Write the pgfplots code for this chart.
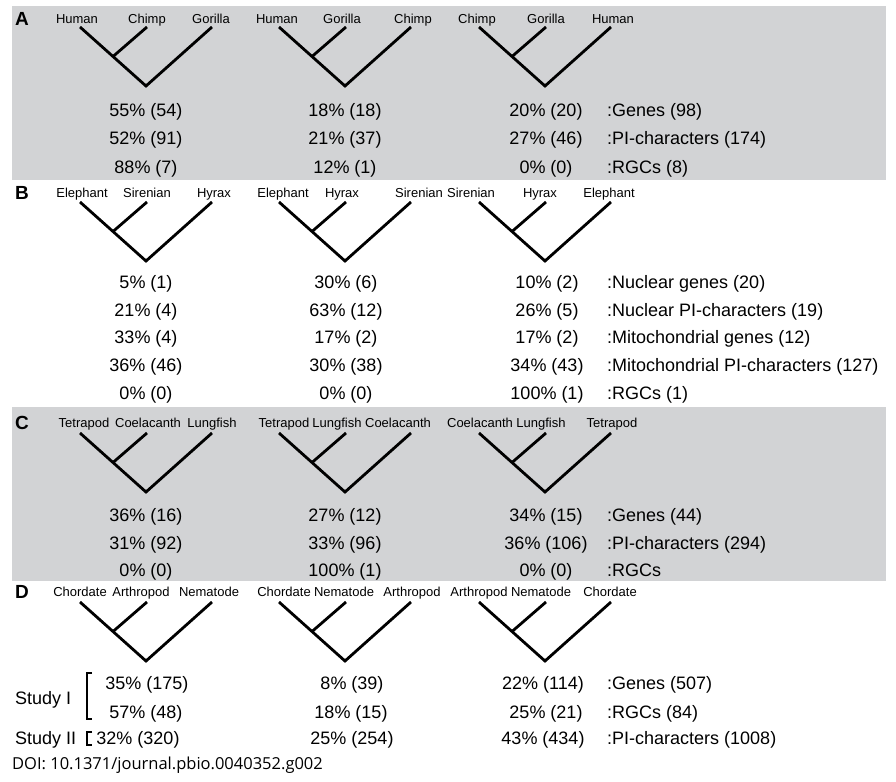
\documentclass[border=0pt]{standalone}
\usepackage{pgfplots}
\pgfplotsset{compat=1.18}
\usepackage{fontspec}
\setmainfont{Liberation Sans}
\newfontfamily\doifont{Open Sans}
\definecolor{panelgray}{RGB}{210,211,213}

\pgfplotsset{
  tree/.style={black, line width=2.8pt, no marks, line join=miter},
  brk/.style={black, line width=1.4pt, no marks},
}
\tikzset{
  pct/.style={font=\fontsize{18}{20}\selectfont, anchor=base, inner sep=0pt},
  lab/.style={font=\fontsize{18}{20}\selectfont, anchor=base west, inner sep=0pt},
  sp/.style={font=\fontsize{13}{15}\selectfont, anchor=base, inner sep=0pt},
  pan/.style={font=\fontsize{19}{21}\selectfont\bfseries, anchor=base west, inner sep=0pt},
}

\begin{document}
\begin{tikzpicture}
\begin{axis}[
  scale only axis, width=896pt, height=781pt,
  xmin=0, xmax=896, ymin=0, ymax=781, y dir=reverse,
  hide axis, clip=false, unbounded coords=jump,
]
% background and grey panels
\addplot[fill=white, draw=none] coordinates {(0,0)(896,0)(896,781)(0,781)};
\addplot[fill=panelgray, draw=none] coordinates {(12,6)(886,6)(886,180)(12,180)};
\addplot[fill=panelgray, draw=none] coordinates {(12,407)(886,407)(886,581)(12,581)};

% trees: V from outer tips to root, then inner branch
% panel A (tips y=27)
\addplot[tree] coordinates {(80,27)(146,86)(212,27) (147,nan) (147,27)(113,56.5)};
\addplot[tree] coordinates {(279,27)(345,86)(411,27) (346,nan) (346,27)(312,56.5)};
\addplot[tree] coordinates {(479,27)(545,86)(611,27) (546,nan) (546,27)(512,56.5)};
% panel B (tips y=202)
\addplot[tree] coordinates {(80,202)(146,261)(212,202) (147,nan) (147,202)(113,231.5)};
\addplot[tree] coordinates {(279,202)(345,261)(411,202) (346,nan) (346,202)(312,231.5)};
\addplot[tree] coordinates {(479,202)(545,261)(611,202) (546,nan) (546,202)(512,231.5)};
% panel C (tips y=433)
\addplot[tree] coordinates {(80,433)(146,492)(212,433) (147,nan) (147,433)(113,462.5)};
\addplot[tree] coordinates {(279,433)(345,492)(411,433) (346,nan) (346,433)(312,462.5)};
\addplot[tree] coordinates {(479,433)(545,492)(611,433) (546,nan) (546,433)(512,462.5)};
% panel D (tips y=602)
\addplot[tree] coordinates {(80,602)(146,661)(212,602) (147,nan) (147,602)(113,631.5)};
\addplot[tree] coordinates {(279,602)(345,661)(411,602) (346,nan) (346,602)(312,631.5)};
\addplot[tree] coordinates {(479,602)(545,661)(611,602) (546,nan) (546,602)(512,631.5)};

% brackets for studies
\addplot[brk] coordinates {(92,673)(87,673)(87,719)(92,719)};
\addplot[brk] coordinates {(92,732)(87,732)(87,745)(92,745)};

% panel letters
\node[pan] at (15,25.8) {A};
\node[pan] at (15,199.8) {B};
\node[pan] at (15,429.8) {C};
\node[pan] at (15,598.8) {D};

% species labels
\node[sp] at (77,23.7) {Human};   \node[sp] at (147,23.7) {Chimp};   \node[sp] at (211,23.7) {Gorilla};
\node[sp] at (277,23.7) {Human};  \node[sp] at (342,23.7) {Gorilla}; \node[sp] at (413,23.7) {Chimp};
\node[sp] at (477,23.7) {Chimp};  \node[sp] at (546,23.7) {Gorilla}; \node[sp] at (613,23.7) {Human};

\node[sp] at (82,197.7) {Elephant};  \node[sp] at (147,197.7) {Sirenian}; \node[sp] at (214,197.7) {Hyrax};
\node[sp] at (283,197.7) {Elephant}; \node[sp] at (342,197.7) {Hyrax};    \node[sp] at (419,197.7) {Sirenian};
\node[sp] at (471,197.7) {Sirenian}; \node[sp] at (540,197.7) {Hyrax};    \node[sp] at (609,197.7) {Elephant};

\node[sp] at (84,427.7) {Tetrapod};   \node[sp] at (148,427.7) {Coelacanth}; \node[sp] at (212,427.7) {Lungfish};
\node[sp] at (284,427.7) {Tetrapod};  \node[sp] at (337,427.7) {Lungfish};   \node[sp] at (398,427.7) {Coelacanth};
\node[sp] at (480,427.7) {Coelacanth};\node[sp] at (541,427.7) {Lungfish};   \node[sp] at (612,427.7) {Tetrapod};

\node[sp] at (80,596.7) {Chordate};   \node[sp] at (141,596.7) {Arthropod}; \node[sp] at (209,596.7) {Nematode};
\node[sp] at (284,596.7) {Chordate};  \node[sp] at (344,596.7) {Nematode};  \node[sp] at (412,596.7) {Arthropod};
\node[sp] at (479,596.7) {Arthropod}; \node[sp] at (541,596.7) {Nematode};  \node[sp] at (610,596.7) {Chordate};

% panel A values
\node[pct] at (146,116.5) {55\% (54)}; \node[pct] at (345,116.5) {18\% (18)}; \node[pct] at (546,116.5) {20\% (20)};
\node[pct] at (146,144.5) {52\% (91)}; \node[pct] at (345,144.5) {21\% (37)}; \node[pct] at (546,144.5) {27\% (46)};
\node[pct] at (146,173.5) {88\% (7)};  \node[pct] at (345,173.5) {12\% (1)};  \node[pct] at (546,173.5) {0\% (0)};
\node[lab] at (607,116.5) {:Genes (98)};
\node[lab] at (607,144.5) {:PI-characters (174)};
\node[lab] at (607,173.5) {:RGCs (8)};

% panel B values
\node[pct] at (146,288.5) {5\% (1)};   \node[pct] at (346,288.5) {30\% (6)};  \node[pct] at (547,288.5) {10\% (2)};
\node[pct] at (146,316.5) {21\% (4)};  \node[pct] at (346,316.5) {63\% (12)}; \node[pct] at (547,316.5) {26\% (5)};
\node[pct] at (146,343.5) {33\% (4)};  \node[pct] at (346,343.5) {17\% (2)};  \node[pct] at (547,343.5) {17\% (2)};
\node[pct] at (146,371.5) {36\% (46)}; \node[pct] at (346,371.5) {30\% (38)}; \node[pct] at (547,371.5) {34\% (43)};
\node[pct] at (146,399.5) {0\% (0)};   \node[pct] at (346,399.5) {0\% (0)};   \node[pct] at (547,399.5) {100\% (1)};
\node[lab] at (607,288.5) {:Nuclear genes (20)};
\node[lab] at (607,316.5) {:Nuclear PI-characters (19)};
\node[lab] at (607,343.5) {:Mitochondrial genes (12)};
\node[lab] at (607,371.5) {:Mitochondrial PI-characters (127)};
\node[lab] at (607,399.5) {:RGCs (1)};

% panel C values
\node[pct] at (146,521.5) {36\% (16)}; \node[pct] at (345,521.5) {27\% (12)}; \node[pct] at (546,521.5) {34\% (15)};
\node[pct] at (146,549.5) {31\% (92)}; \node[pct] at (345,549.5) {33\% (96)}; \node[pct] at (546,549.5) {36\% (106)};
\node[pct] at (146,576.5) {0\% (0)};   \node[pct] at (345,576.5) {100\% (1)}; \node[pct] at (546,576.5) {0\% (0)};
\node[lab] at (607,521.5) {:Genes (44)};
\node[lab] at (607,549.5) {:PI-characters (294)};
\node[lab] at (607,576.5) {:RGCs};

% panel D values
\node[lab] at (15,704.5) {Study I};
\node[lab] at (15,744.5) {Study II};
\node[pct] at (147,689.5) {35\% (175)}; \node[pct] at (352,689.5) {8\% (39)};   \node[pct] at (543,689.5) {22\% (114)};
\node[pct] at (146,718.5) {57\% (48)};  \node[pct] at (351,718.5) {18\% (15)};  \node[pct] at (546,718.5) {25\% (21)};
\node[pct] at (138,744.5) {32\% (320)}; \node[pct] at (352,744.5) {25\% (254)}; \node[pct] at (543,744.5) {43\% (434)};
\node[lab] at (607,689.5) {:Genes (507)};
\node[lab] at (607,718.5) {:RGCs (84)};
\node[lab] at (607,744.5) {:PI-characters (1008)};

\node[anchor=base west, inner sep=0pt, font=\doifont\fontsize{16.5}{18}\selectfont] at (12,769.5) {DOI: 10.1371/journal.pbio.0040352.g002};
\end{axis}
\end{tikzpicture}
\end{document}
